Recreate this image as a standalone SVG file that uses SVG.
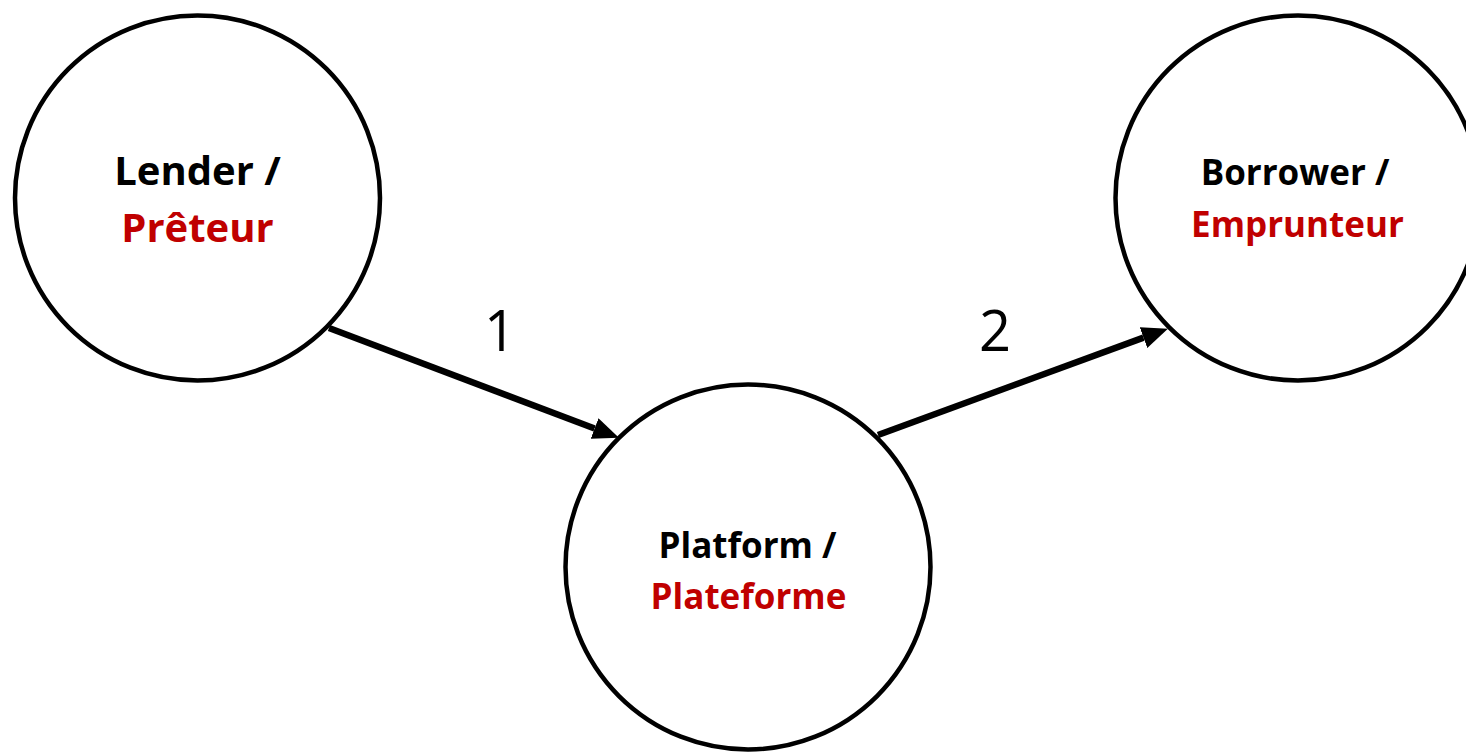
<svg xmlns="http://www.w3.org/2000/svg" width="1466" height="755" viewBox="0 0 1466 755">
  <style>
    .node { fill: #FFFFFF; stroke: #000000; stroke-width: 4.5; }
    .t { font-family: "Open Sans", "Liberation Sans", sans-serif; font-weight: bold; text-anchor: middle; }
    .en { fill: #000000; }
    .fr { fill: #C00000; }
    .conn { stroke: #000000; stroke-width: 6.5; fill: none; marker-end: url(#arrow); }
    .num { font-family: "Open Sans", "Liberation Sans", sans-serif; font-size: 56px; fill: #000000; text-anchor: middle; }
  </style>
  <defs>
    <marker id="arrow" markerUnits="userSpaceOnUse" markerWidth="30" markerHeight="24" refX="0" refY="11" orient="auto">
      <path d="M0,0 L26,11 L0,22 z" fill="#000000"/>
    </marker>
  </defs>
  <rect x="0" y="0" width="1466" height="755" fill="#FFFFFF"/>
  <g id="connectors">
    <path class="conn" d="M329,328 L594.6,428.5"/>
    <path class="conn" d="M878,435 L1143.5,337.6"/>
    <text class="num" x="500" y="351">1</text>
    <text class="num" x="995" y="351">2</text>
  </g>
  <g id="lender">
    <circle class="node" cx="197.5" cy="198" r="182.5"/>
    <text class="t en" x="197.5" y="185" font-size="40">Lender /</text>
    <text class="t fr" x="197.5" y="242" font-size="40">Prêteur</text>
  </g>
  <g id="borrower">
    <circle class="node" cx="1298" cy="198" r="182.5"/>
    <text class="t en" x="1295" y="185" font-size="35">Borrower /</text>
    <text class="t fr" x="1297.5" y="237" font-size="35">Emprunteur</text>
  </g>
  <g id="platform">
    <circle class="node" cx="748" cy="567" r="182.5"/>
    <text class="t en" x="747.5" y="558" font-size="35">Platform /</text>
    <text class="t fr" x="748.5" y="609" font-size="35">Plateforme</text>
  </g>
</svg>
